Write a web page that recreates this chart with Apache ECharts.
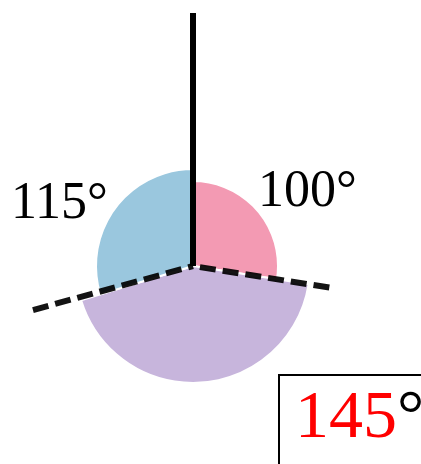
<!DOCTYPE html>
<html><head><meta charset="utf-8">
<script src="https://cdn.jsdelivr.net/npm/echarts@6/dist/echarts.min.js"></script>
<style>html,body{margin:0;padding:0;background:#fff}#c{width:421px;height:464px}</style>
</head><body><div id="c"></div>
<script>
// Slices (drawn sweep in degrees, clockwise from top), radii and labels
const sliceNames = ['pink', 'purple', 'blue'];
const sliceSweeps = [99, 154, 107];
const sliceRadii = [85, 117, 97];
const sliceColors = ['#f39ab3', '#c7b5dc', '#9ac7de'];
const angleLabels = ['100°', '145°', '115°'];
// Rays from the centre: [angle, length]
const rayAngles = [0, 99, 254.6];
const rayLengths = [253, 138, 166];
const rayDashed = [false, true, true];

const cx = 193, cy = 266;
const chart = echarts.init(document.getElementById('c'), null, {renderer: 'canvas'});

const series = [];
let start = 0;
sliceNames.forEach((n, i) => {
  series.push({
    type: 'pie', name: n, center: [cx, cy], radius: [0, sliceRadii[i]],
    startAngle: 90 - start, clockwise: true, silent: true, animation: false,
    label: {show: false}, labelLine: {show: false}, z: 1,
    data: [
      {value: sliceSweeps[i], itemStyle: {color: sliceColors[i], borderColor: '#fff', borderWidth: 2}},
      {value: 360 - sliceSweeps[i], itemStyle: {color: 'rgba(0,0,0,0)', borderWidth: 0}}
    ]
  });
  start += sliceSweeps[i];
});
rayAngles.forEach((a, i) => {
  series.push({
    type: 'line', coordinateSystem: 'polar', symbol: 'none', silent: true, animation: false, z: 5,
    lineStyle: {color: '#000', width: 6, type: rayDashed[i] ? [16, 7] : 'solid', cap: 'butt', opacity: rayDashed[i] ? 0.92 : 1},
    data: [[rayLengths[i], a], [0, a]]
  });
});

chart.setOption({
  backgroundColor: '#fff',
  polar: {center: [cx, cy], radius: 260},
  angleAxis: {type: 'value', min: 0, max: 360, startAngle: 90, clockwise: true, show: false,
    axisLine: {show: false}, axisTick: {show: false}, axisLabel: {show: false}, splitLine: {show: false}},
  radiusAxis: {type: 'value', min: 0, max: 260, show: false,
    axisLine: {show: false}, axisTick: {show: false}, axisLabel: {show: false}, splitLine: {show: false}},
  series: series,
  graphic: [
    {type: 'text', left: 258, top: 166, z: 10, style: {text: angleLabels[0], font: '52px "Liberation Serif"', fill: '#000'}},
    {type: 'text', left: 11, top: 178, z: 10, style: {text: angleLabels[2], font: '52px "Liberation Serif"', fill: '#000'}},
    {type: 'rect', shape: {x: 279, y: 375, width: 160, height: 110}, z: 10, style: {fill: '#fff', stroke: '#000', lineWidth: 2}},
    {type: 'text', left: 295, top: 385, z: 11, style: {
      text: '{r|' + angleLabels[1].replace('°', '') + '}{k|°}',
      rich: {r: {font: '68px "Liberation Serif"', fill: '#ff0000'}, k: {font: '68px "Liberation Serif"', fill: '#000'}}
    }}
  ]
});
</script></body></html>
